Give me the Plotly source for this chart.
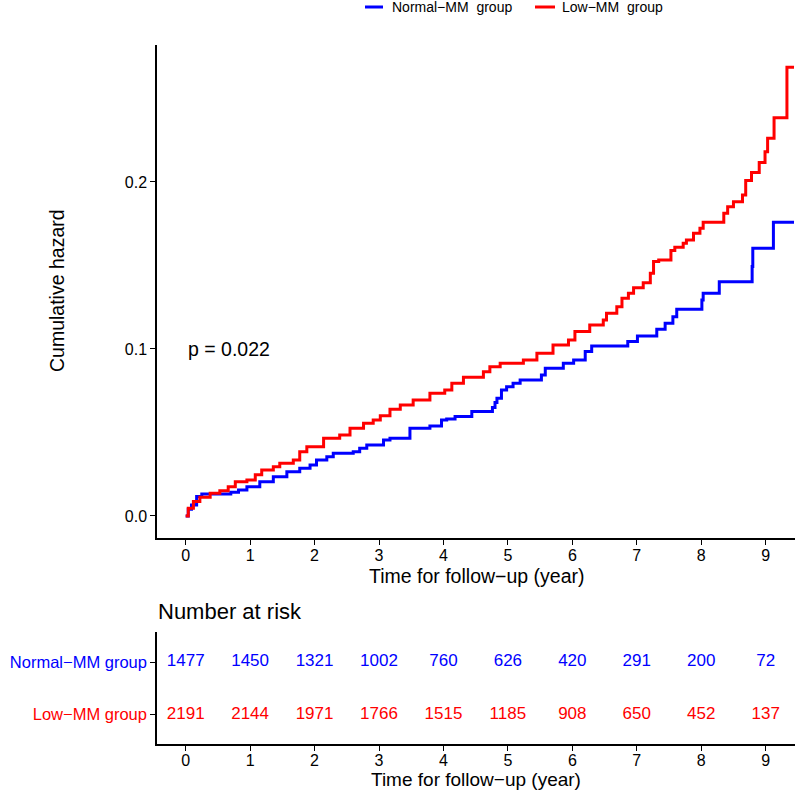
import plotly.graph_objects as go

# ---------------- data ----------------
normal_time = [0.00, 0.04, 0.09, 0.17, 0.25, 0.70, 0.82, 0.95, 1.15, 1.36, 1.57, 1.77, 1.93, 2.03,
               2.19, 2.29, 2.60, 2.70, 2.81, 3.07, 3.17, 3.48, 3.79, 3.97, 4.05, 4.18, 4.44, 4.76,
               4.80, 4.83, 4.90, 4.98, 5.08, 5.19, 5.52, 5.58, 5.86, 6.02, 6.20, 6.30, 6.86, 7.01,
               7.31, 7.44, 7.56, 7.62, 8.01, 8.03, 8.28, 8.79, 8.80, 9.12, 9.44]
normal_haz = [0.0000, 0.0040, 0.0066, 0.0116, 0.0132, 0.0142, 0.0156, 0.0175, 0.0205, 0.0235, 0.0265,
              0.0285, 0.0305, 0.0335, 0.0355, 0.0375, 0.0385, 0.0405, 0.0425, 0.0455, 0.0465, 0.0525,
              0.0539, 0.0575, 0.0581, 0.0595, 0.0625, 0.0650, 0.0680, 0.0705, 0.0754, 0.0774, 0.0795,
              0.0814, 0.0844, 0.0884, 0.0914, 0.0934, 0.0984, 0.1018, 0.1044, 0.1078, 0.1118, 0.1154,
              0.1193, 0.1237, 0.1293, 0.1334, 0.1403, 0.1493, 0.1603, 0.1759, 0.1759]

low_time = [0.00, 0.04, 0.12, 0.22, 0.38, 0.53, 0.66, 0.77, 0.95, 1.08, 1.18, 1.36, 1.46, 1.67, 1.77,
            1.88, 2.14, 2.39, 2.55, 2.76, 2.91, 3.02, 3.17, 3.33, 3.53, 3.79, 4.02, 4.13, 4.31, 4.62,
            4.72, 4.88, 5.24, 5.45, 5.70, 5.94, 6.04, 6.27, 6.48, 6.53, 6.69, 6.77, 6.87, 6.95, 7.10,
            7.21, 7.26, 7.34, 7.53, 7.59, 7.72, 7.77, 7.88, 7.98, 8.03, 8.35, 8.41, 8.50, 8.64, 8.69,
            8.78, 8.90, 8.99, 9.03, 9.13, 9.33, 9.44]
low_haz = [0.0000, 0.0046, 0.0086, 0.0112, 0.0136, 0.0151, 0.0175, 0.0205, 0.0216, 0.0246, 0.0275,
           0.0295, 0.0316, 0.0335, 0.0385, 0.0415, 0.0465, 0.0485, 0.0525, 0.0555, 0.0575, 0.0600,
           0.0639, 0.0665, 0.0695, 0.0735, 0.0754, 0.0795, 0.0831, 0.0864, 0.0894, 0.0914, 0.0934,
           0.0974, 0.1024, 0.1054, 0.1104, 0.1144, 0.1174, 0.1214, 0.1253, 0.1304, 0.1334, 0.1367,
           0.1397, 0.1453, 0.1523, 0.1533, 0.1589, 0.1609, 0.1633, 0.1653, 0.1693, 0.1723, 0.1759,
           0.1813, 0.1852, 0.1882, 0.1922, 0.2008, 0.2056, 0.2116, 0.2181, 0.2262, 0.2385, 0.2687,
           0.2687]

risk_times = [0, 1, 2, 3, 4, 5, 6, 7, 8, 9]
risk_normal = [1477, 1450, 1321, 1002, 760, 626, 420, 291, 200, 72]
risk_low = [2191, 2144, 1971, 1766, 1515, 1185, 908, 650, 452, 137]

group_names = ["Normal\u2212MM group", "Low\u2212MM group"]
legend_names = ["Normal\u2212MM\u00a0 group", "Low\u2212MM\u00a0 group"]
y_ticks = [0.0, 0.1, 0.2]
y_ticklabels = ["0.0", "0.1", "0.2"]
p_text = "p = 0.022"

BLUE = "#0000FF"
RED = "#FF0000"
FONT = "Liberation Sans, Arial, sans-serif"

W, H = 797, 792
def px(x):
    return x / W
def py(y):
    return 1 - y / H

fig = go.Figure()

fig.add_trace(go.Scatter(x=normal_time, y=normal_haz, mode="lines", line=dict(color=BLUE, width=3, shape="hv"),
                         name=legend_names[0], xaxis="x", yaxis="y"))
fig.add_trace(go.Scatter(x=low_time, y=low_haz, mode="lines", line=dict(color=RED, width=3, shape="hv"),
                         name=legend_names[1], xaxis="x", yaxis="y"))

# risk table
fig.add_trace(go.Scatter(x=risk_times, y=[2] * len(risk_times), mode="text",
                         text=[str(v) for v in risk_normal], textfont=dict(color=BLUE, size=17, family=FONT),
                         showlegend=False, xaxis="x2", yaxis="y2", hoverinfo="skip"))
fig.add_trace(go.Scatter(x=risk_times, y=[1] * len(risk_times), mode="text",
                         text=[str(v) for v in risk_low], textfont=dict(color=RED, size=17, family=FONT),
                         showlegend=False, xaxis="x2", yaxis="y2", hoverinfo="skip"))

xrange = [-0.445, 9.455]
axis_common = dict(showline=True, linecolor="black", linewidth=1.5, ticks="outside", ticklen=5,
                   tickwidth=1.2, tickcolor="black", showgrid=False, zeroline=False,
                   tickfont=dict(size=16, color="black", family=FONT))

fig.update_layout(
    width=W, height=H,
    margin=dict(l=0, r=0, t=0, b=0),
    paper_bgcolor="white", plot_bgcolor="white",
    font=dict(family=FONT, color="black"),
    xaxis=dict(domain=[px(157), px(795)], range=xrange, anchor="y",
               tickvals=risk_times, ticklabelstandoff=-3, **axis_common),
    yaxis=dict(domain=[py(538), py(45)], range=[-0.0132, 0.282], anchor="x",
               tickvals=y_ticks, ticktext=y_ticklabels, **axis_common),
    xaxis2=dict(domain=[px(157), px(795)], range=xrange, anchor="y2",
                tickvals=risk_times, ticklabelstandoff=-4, **axis_common),
    yaxis2=dict(domain=[py(744), py(632)], range=[0.43, 2.58], anchor="x2",
                tickvals=[2, 1],
                ticktext=[f'<span style="color:{BLUE}">{group_names[0]}</span>',
                          f'<span style="color:{RED}">{group_names[1]}</span>'],
                **{**axis_common, "tickfont": dict(size=16.5, family=FONT)}),
    showlegend=False,
)

# legend keys (drawn as a compact horizontal legend above the plot)
legend_items = [(legend_names[0], BLUE, 365, 383, 391), (legend_names[1], RED, 535, 555, 561)]
for name, col, x0, x1, xt in legend_items:
    fig.add_shape(type="line", xref="paper", yref="paper", x0=px(x0), x1=px(x1), y0=py(7), y1=py(7),
                  line=dict(color=col, width=3))
    fig.add_annotation(text=name, xref="paper", yref="paper", x=px(xt - 1), y=py(7),
                       xanchor="left", yanchor="middle", showarrow=False,
                       font=dict(size=14, color="black", family=FONT))

ann = [
    dict(text="Cumulative hazard", x=px(57), y=py(291), textangle=-90, font=dict(size=19.5)),
    dict(text="Time for follow\u2212up (year)", x=px(476), y=py(576), font=dict(size=19.5)),
    dict(text="Time for follow\u2212up (year)", x=px(476), y=py(779.5), font=dict(size=19)),
    dict(text="Number at risk", x=px(156), y=py(611), xanchor="left", font=dict(size=22)),
    dict(text=p_text, x=0, y=0.1, xref="x", yref="y", xanchor="left", font=dict(size=19.5)),
]
for a in ann:
    a.setdefault("xref", "paper")
    a.setdefault("yref", "paper")
    a.setdefault("xanchor", "center")
    a.setdefault("yanchor", "middle")
    a["showarrow"] = False
    a["font"] = dict(family=FONT, color="black", **a["font"])
    fig.add_annotation(**a)

fig.write_html("out.html",
               config={"displayModeBar": False},
               post_script="document.body.style.margin='0';document.body.style.padding='0';"
                           "document.documentElement.style.overflow='hidden';")
